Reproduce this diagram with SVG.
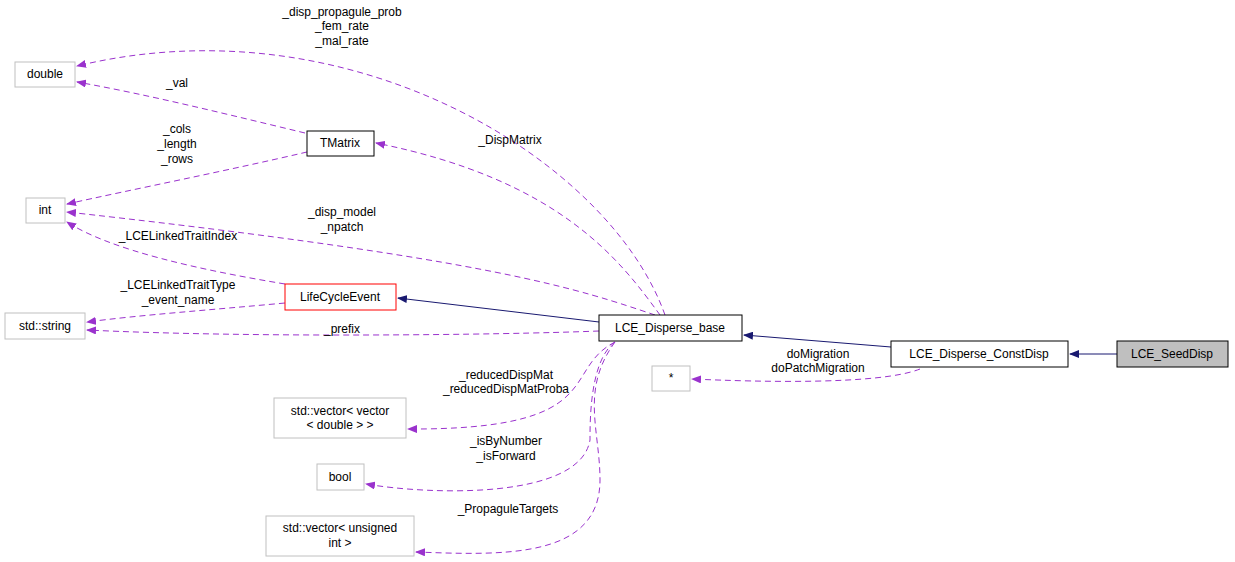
<svg xmlns="http://www.w3.org/2000/svg" width="1235" height="562" viewBox="0 0 1235 562">
<style>
text{font-family:"Liberation Sans",Arial,sans-serif;font-size:12px;fill:#000;text-anchor:middle}
.g{fill:#fff;stroke:#c0c0c0}
.b{fill:#fff;stroke:#000}
.d{fill:none;stroke:#9a32cd;stroke-dasharray:6,4}
.s{fill:none;stroke:#191970}
</style>
<defs>
<marker id="p" markerWidth="10" markerHeight="8" refX="9" refY="4" orient="auto" markerUnits="userSpaceOnUse"><path d="M0,0 L10,4 L0,8z" fill="#9a32cd"/></marker>
<marker id="n" markerWidth="10" markerHeight="8" refX="9" refY="4" orient="auto" markerUnits="userSpaceOnUse"><path d="M0,0 L10,4 L0,8z" fill="#191970"/></marker>
</defs>
<rect width="1235" height="562" fill="#fff"/>
<g id="connectors">
<path class="s" d="M1117,354 L1070,354" marker-end="url(#n)"/>
<path class="s" d="M891,347 L744,335" marker-end="url(#n)"/>
<path class="s" d="M599,322 L398,298" marker-end="url(#n)"/>
<path class="d" d="M920,369 C880,385 760,382 692,379" marker-end="url(#p)"/>
<path class="d" d="M665,315 C610,160 350,0 77,66" marker-end="url(#p)"/>
<path class="d" d="M305,133 C230,115 150,95 77,82" marker-end="url(#p)"/>
<path class="d" d="M307,152 C230,170 130,190 67,204" marker-end="url(#p)"/>
<path class="d" d="M655,315 C580,290 500,260 67,212" marker-end="url(#p)"/>
<path class="d" d="M285,284 C200,270 110,250 67,222" marker-end="url(#p)"/>
<path class="d" d="M285,303 C210,310 140,315 87,322" marker-end="url(#p)"/>
<path class="d" d="M599,331 C500,335 250,338 87,330" marker-end="url(#p)"/>
<path class="d" d="M660,315 C620,260 560,180 376,143" marker-end="url(#p)"/>
<path class="d" d="M615,342 C560,370 610,430 408,429" marker-end="url(#p)"/>
<path class="d" d="M615,342 C590,360 590,420 590,440 C580,500 430,495 366,484" marker-end="url(#p)"/>
<path class="d" d="M615,342 C580,390 600,430 600,480 C600,560 500,555 416,552" marker-end="url(#p)"/>
</g>
<g id="double"><rect class="g" x="15" y="62" width="60" height="25"/><text x="45" y="78">double</text></g>
<g id="int"><rect class="g" x="26" y="198" width="39" height="25"/><text x="45" y="214">int</text></g>
<g id="string"><rect class="g" x="5" y="313" width="80" height="26"/><text x="45" y="330">std::string</text></g>
<g id="TMatrix"><rect class="b" x="307" y="131" width="67" height="25"/><text x="340" y="147">TMatrix</text></g>
<g id="LifeCycleEvent"><rect fill="#fff" stroke="#ff0000" x="285" y="284" width="111" height="26"/><text x="340" y="301">LifeCycleEvent</text></g>
<g id="LCE_Disperse_base"><rect class="b" x="599" y="315" width="143" height="26"/><text x="670" y="332">LCE_Disperse_base</text></g>
<g id="vecvec"><rect class="g" x="274" y="398" width="132" height="40"/><text x="340" y="415">std::vector&lt; vector</text><text x="340" y="429">&lt; double &gt; &gt;</text></g>
<g id="bool"><rect class="g" x="317" y="464" width="47" height="26"/><text x="340" y="481">bool</text></g>
<g id="vecuint"><rect class="g" x="266" y="516" width="148" height="40"/><text x="340" y="532">std::vector&lt; unsigned</text><text x="340" y="547">int &gt;</text></g>
<g id="star"><rect class="g" x="652" y="366" width="38" height="25"/><text x="671" y="382">*</text></g>
<g id="ConstDisp"><rect class="b" x="891" y="341" width="177" height="26"/><text x="979" y="358">LCE_Disperse_ConstDisp</text></g>
<g id="SeedDisp"><rect fill="#bfbfbf" stroke="#000" x="1117" y="341" width="111" height="26"/><text x="1172" y="358">LCE_SeedDisp</text></g>
<g id="labels">
<text x="342" y="16">_disp_propagule_prob</text><text x="342" y="30">_fem_rate</text><text x="342" y="45">_mal_rate</text>
<text x="177" y="87">_val</text>
<text x="177" y="133">_cols</text><text x="177" y="148">_length</text><text x="177" y="163">_rows</text>
<text x="342" y="216">_disp_model</text><text x="342" y="231">_npatch</text>
<text x="178" y="240">_LCELinkedTraitIndex</text>
<text x="178" y="289">_LCELinkedTraitType</text><text x="178" y="304">_event_name</text>
<text x="342" y="333">_prefix</text>
<text x="510" y="144">_DispMatrix</text>
<text x="506" y="379">_reducedDispMat</text><text x="506" y="393">_reducedDispMatProba</text>
<text x="506" y="445">_isByNumber</text><text x="506" y="460">_isForward</text>
<text x="508" y="513">_PropaguleTargets</text>
<text x="818" y="358">doMigration</text><text x="818" y="372">doPatchMigration</text>
</g>
</svg>
